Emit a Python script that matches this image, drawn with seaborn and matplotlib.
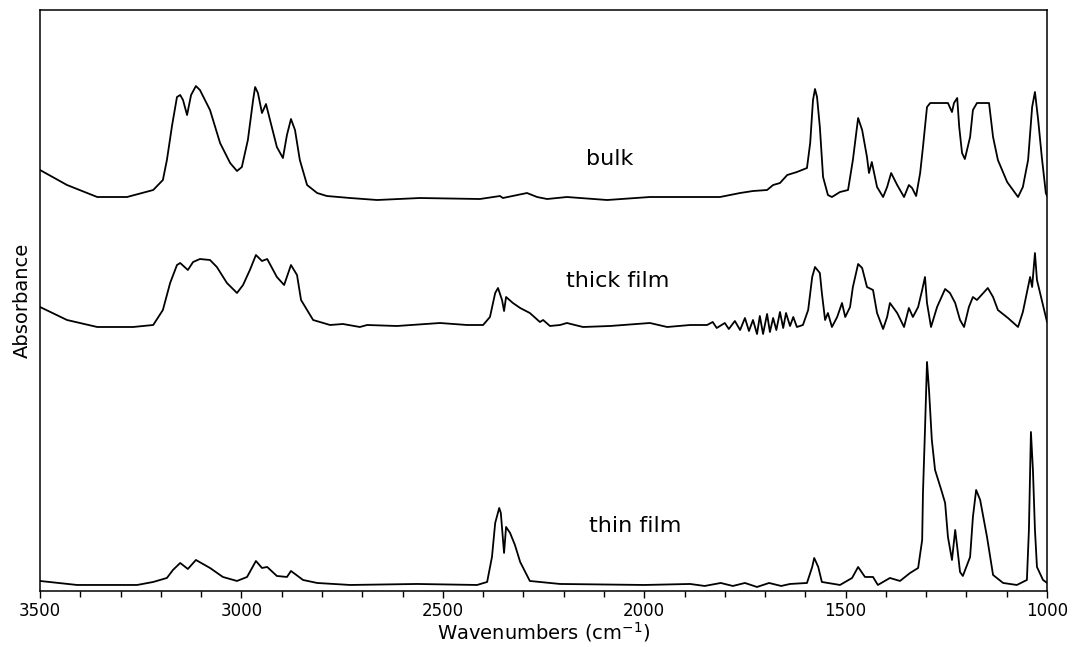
import numpy as np
import pandas as pd
import matplotlib
matplotlib.use("Agg")
import matplotlib.pyplot as plt
from matplotlib.ticker import MultipleLocator
import seaborn as sns

# ---- data (wavenumber in cm^-1, stacked absorbance in arbitrary units) ----
bulk_wn = [3500, 3433, 3358, 3284, 3219, 3195, 3185, 3172, 3160, 3152, 3145, 3135, 3125, 3113, 3103,
           3078, 3053, 3028, 3011, 2999, 2984, 2971, 2966, 2959, 2949, 2939, 2929, 2912, 2897, 2887,
           2877, 2867, 2855, 2837, 2812, 2788, 2730, 2663, 2557, 2408, 2358, 2351, 2291, 2266, 2241,
           2192, 2092, 1986, 1911, 1812, 1762, 1730, 1695, 1680, 1663, 1645, 1621, 1596, 1588, 1581,
           1576, 1571, 1564, 1556, 1544, 1534, 1514, 1494, 1482, 1469, 1459, 1447, 1442, 1435, 1422,
           1407, 1397, 1387, 1372, 1355, 1343, 1335, 1325, 1315, 1308, 1298, 1290, 1246, 1236, 1231,
           1223, 1218, 1211, 1204, 1191, 1184, 1174, 1144, 1134, 1122, 1099, 1072, 1060, 1047, 1037,
           1030, 1022, 1013, 1003, 1000]
bulk_abs = [4.21, 4.06, 3.94, 3.94, 4.01, 4.11, 4.31, 4.66, 4.94, 4.96, 4.91, 4.76, 4.96, 5.05, 5.01,
            4.81, 4.48, 4.28, 4.20, 4.24, 4.51, 4.91, 5.04, 4.98, 4.78, 4.87, 4.71, 4.44, 4.33, 4.56,
            4.72, 4.61, 4.31, 4.06, 3.98, 3.95, 3.93, 3.91, 3.93, 3.92, 3.95, 3.93, 3.98, 3.94, 3.92,
            3.94, 3.91, 3.94, 3.94, 3.94, 3.98, 4.00, 4.01, 4.06, 4.08, 4.16, 4.19, 4.23, 4.48, 4.91,
            5.02, 4.94, 4.64, 4.14, 3.96, 3.94, 3.99, 4.01, 4.31, 4.73, 4.61, 4.34, 4.18, 4.29, 4.04,
            3.94, 4.04, 4.18, 4.06, 3.94, 4.06, 4.03, 3.95, 4.18, 4.44, 4.84, 4.88, 4.88, 4.79, 4.88,
            4.93, 4.64, 4.38, 4.32, 4.54, 4.81, 4.88, 4.88, 4.54, 4.31, 4.09, 3.94, 4.04, 4.31, 4.84,
            4.99, 4.71, 4.34, 3.98, 3.95]

thick_wn = [3500, 3433, 3358, 3269, 3219, 3195, 3177, 3160, 3152, 3133, 3120, 3103, 3078, 3061, 3036,
            3011, 2996, 2979, 2964, 2949, 2936, 2912, 2894, 2877, 2862, 2852, 2822, 2780, 2748, 2706,
            2688, 2614, 2507, 2440, 2400, 2383, 2370, 2363, 2353, 2348, 2343, 2326, 2308, 2284, 2259,
            2251, 2234, 2209, 2192, 2152, 2085, 1986, 1943, 1886, 1844, 1830, 1820, 1800, 1790, 1775,
            1762, 1750, 1740, 1730, 1720, 1713, 1705, 1695, 1688, 1680, 1672, 1663, 1655, 1648, 1638,
            1630, 1621, 1606, 1593, 1583, 1576, 1564, 1559, 1551, 1544, 1534, 1521, 1509, 1501, 1489,
            1482, 1469, 1459, 1447, 1432, 1422, 1407, 1397, 1390, 1372, 1355, 1343, 1333, 1320, 1310,
            1303, 1298, 1288, 1273, 1253, 1241, 1228, 1216, 1206, 1194, 1184, 1174, 1147, 1134, 1122,
            1097, 1072, 1060, 1042, 1037, 1030, 1025, 1013, 1003, 1000]
thick_abs = [2.84, 2.71, 2.64, 2.64, 2.66, 2.81, 3.08, 3.26, 3.28, 3.21, 3.29, 3.32, 3.31, 3.24, 3.08,
             2.98, 3.06, 3.21, 3.36, 3.30, 3.32, 3.14, 3.06, 3.26, 3.16, 2.91, 2.71, 2.66, 2.67, 2.64,
             2.66, 2.65, 2.68, 2.66, 2.66, 2.74, 2.98, 3.03, 2.91, 2.80, 2.94, 2.88, 2.83, 2.78, 2.69,
             2.71, 2.65, 2.66, 2.68, 2.64, 2.65, 2.68, 2.64, 2.66, 2.66, 2.69, 2.63, 2.68, 2.62, 2.70,
             2.61, 2.73, 2.60, 2.71, 2.57, 2.75, 2.57, 2.77, 2.59, 2.73, 2.61, 2.79, 2.63, 2.78, 2.65,
             2.74, 2.64, 2.66, 2.81, 3.14, 3.24, 3.18, 2.98, 2.71, 2.78, 2.64, 2.74, 2.88, 2.74, 2.84,
             3.04, 3.27, 3.23, 3.04, 3.01, 2.78, 2.62, 2.74, 2.88, 2.78, 2.64, 2.83, 2.74, 2.84, 3.01,
             3.14, 2.88, 2.64, 2.84, 3.02, 2.98, 2.88, 2.71, 2.64, 2.84, 2.94, 2.91, 3.03, 2.94, 2.81,
             2.73, 2.64, 2.79, 3.14, 3.04, 3.38, 3.11, 2.91, 2.74, 2.69]

thin_wn = [3500, 3408, 3259, 3219, 3185, 3170, 3152, 3133, 3113, 3078, 3046, 3011, 2986, 2964, 2949,
           2936, 2912, 2887, 2877, 2847, 2812, 2730, 2564, 2415, 2390, 2378, 2370, 2360, 2356, 2348,
           2343, 2333, 2321, 2308, 2284, 2259, 2209, 2000, 1886, 1850, 1810, 1780, 1750, 1720, 1690,
           1660, 1638, 1596, 1583, 1578, 1568, 1559, 1514, 1484, 1469, 1452, 1432, 1420, 1390, 1365,
           1340, 1320, 1310, 1308, 1303, 1298, 1293, 1286, 1278, 1261, 1253, 1246, 1236, 1228, 1223,
           1216, 1209, 1191, 1184, 1176, 1166, 1149, 1134, 1109, 1075, 1050, 1045, 1040, 1035, 1030,
           1025, 1010, 1003, 1000]
thin_abs = [0.10, 0.06, 0.06, 0.09, 0.13, 0.21, 0.28, 0.22, 0.31, 0.23, 0.14, 0.10, 0.14, 0.30, 0.23,
            0.24, 0.15, 0.14, 0.20, 0.11, 0.08, 0.06, 0.07, 0.06, 0.09, 0.34, 0.68, 0.83, 0.78, 0.38,
            0.64, 0.58, 0.46, 0.29, 0.10, 0.09, 0.07, 0.06, 0.07, 0.05, 0.08, 0.05, 0.08, 0.04, 0.08,
            0.05, 0.07, 0.08, 0.24, 0.33, 0.24, 0.09, 0.06, 0.13, 0.24, 0.14, 0.14, 0.06, 0.13, 0.10,
            0.18, 0.23, 0.51, 0.98, 1.61, 2.29, 2.01, 1.51, 1.21, 0.99, 0.88, 0.54, 0.31, 0.61, 0.44,
            0.19, 0.15, 0.34, 0.74, 1.01, 0.91, 0.54, 0.16, 0.08, 0.06, 0.11, 0.61, 1.59, 1.21, 0.61,
            0.24, 0.11, 0.09, 0.08]

labels = ["bulk", "thick film", "thin film"]
label_wn = [2085, 2065, 2023]
label_abs = [4.26, 3.04, 0.59]

df = pd.concat([
    pd.DataFrame({"wn": bulk_wn, "A": bulk_abs, "sample": "bulk"}),
    pd.DataFrame({"wn": thick_wn, "A": thick_abs, "sample": "thick film"}),
    pd.DataFrame({"wn": thin_wn, "A": thin_abs, "sample": "thin film"}),
])

# ---- plot ----
sns.set_style("ticks")
plt.rcParams["font.family"] = ["DejaVu Sans"]
plt.rcParams["text.color"] = "black"
plt.rcParams["axes.labelcolor"] = "black"
plt.rcParams["xtick.color"] = "black"
plt.rcParams["ytick.color"] = "black"

fig = plt.figure(figsize=(10.73, 6.47), dpi=100)
ax = fig.add_axes([0.0373, 0.0866, 0.9385, 0.8979])

sns.lineplot(data=df, x="wn", y="A", hue="sample", units="sample", estimator=None,
             palette=["black", "black", "black"], linewidth=1.3, legend=False, ax=ax)

for t, x, y in zip(labels, label_wn, label_abs):
    ax.text(x, y, t, ha="center", va="baseline", fontsize=16, color="black")

ax.set_xlim(3500, 1000)
ax.set_ylim(0, 5.81)
ax.set_yticks([])
ax.xaxis.set_major_locator(MultipleLocator(500))
ax.xaxis.set_minor_locator(MultipleLocator(100))
ax.tick_params(axis="x", which="major", length=5, width=1, direction="out", labelsize=12,
               pad=3, colors="black")
ax.tick_params(axis="x", which="minor", length=4, width=1, direction="out", colors="black")
for s in ax.spines.values():
    s.set_visible(True)
    s.set_linewidth(1.1)
    s.set_color("black")

ax.set_xlabel("Wavenumbers (cm$^{-1}$)", fontsize=14, labelpad=0, color="black")
ax.set_ylabel("Absorbance", fontsize=14, labelpad=6, color="black")

fig.savefig("out.png", dpi=100)
